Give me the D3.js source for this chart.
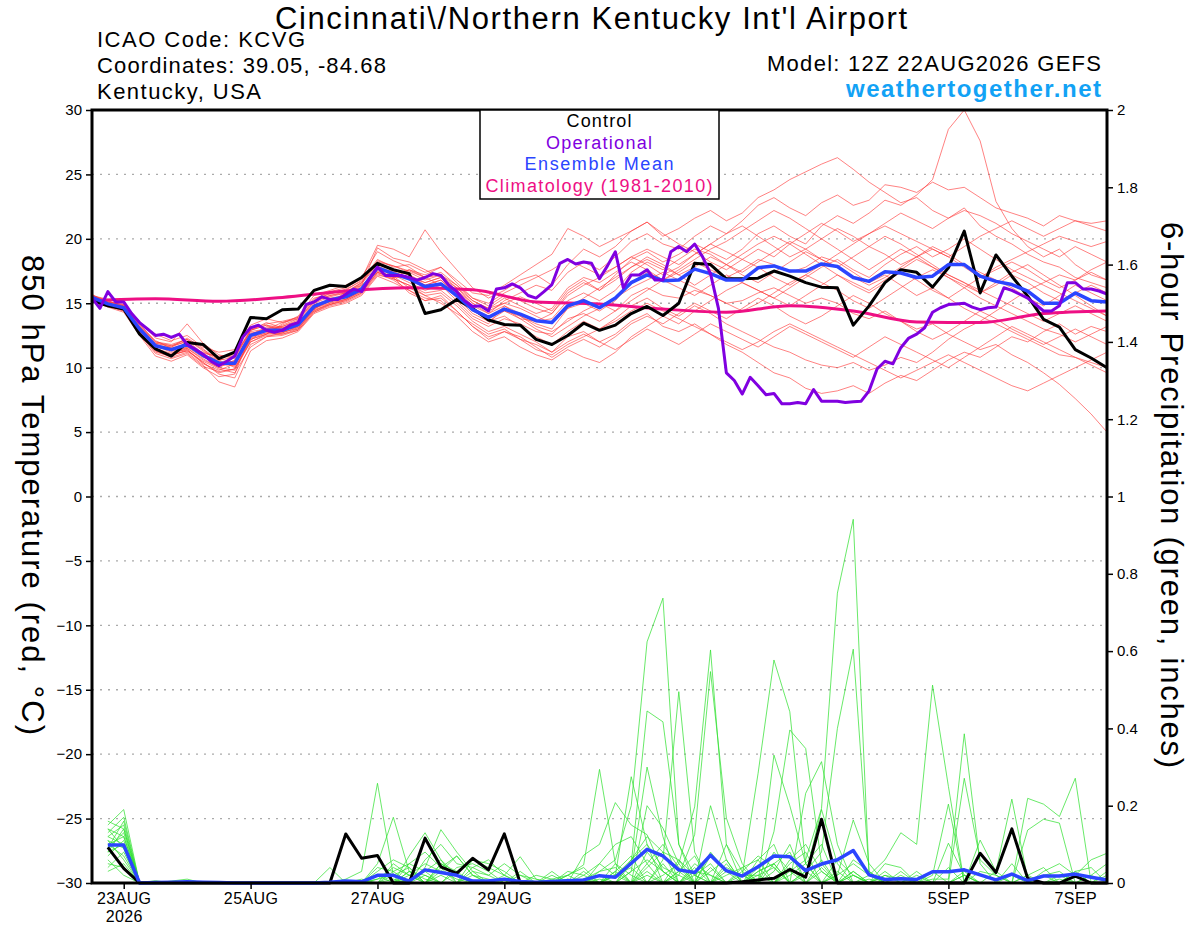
<!DOCTYPE html>
<html>
<head>
<meta charset="utf-8">
<script src="https://cdn.jsdelivr.net/npm/d3@7"></script>
<style>
  body { margin: 0; background: #fff; }
  svg { font-family: "Liberation Sans", Arial, Helvetica, sans-serif; }
</style>
</head>
<body>
<svg id="chart" width="1200" height="927"></svg>
<script>
// Model run start and forecast step
const runStart = Date.UTC(2026, 7, 22, 12);
const stepHours = 6;

// x-axis ticks (00Z of the labelled days)
const tickDays = ["2026-08-23", "2026-08-25", "2026-08-27", "2026-08-29", "2026-09-01", "2026-09-03", "2026-09-05", "2026-09-07"];
const tickLabels = ["23AUG", "25AUG", "27AUG", "29AUG", "1SEP", "3SEP", "5SEP", "7SEP"];
const tempTicks = [-30, -25, -20, -15, -10, -5, 0, 5, 10, 15, 20, 25, 30];
const precipTicks = [0, 0.2, 0.4, 0.6, 0.8, 1, 1.2, 1.4, 1.6, 1.8, 2];

// 850 hPa temperature, 6-hourly from 12Z 22AUG
const controlTemp = [15.2, 14.8, 14.55, 12.6, 11.45, 10.9, 11.95, 11.8, 10.7, 11.2,
    13.9, 13.8, 14.5, 14.55, 16.0, 16.4, 16.3, 17.0, 18.1, 17.6,
    17.3, 14.2, 14.5, 15.3, 14.6, 13.7, 13.35, 13.3, 12.2, 11.8,
    12.5, 13.45, 12.9, 13.3, 14.2, 14.75, 14.05, 15.0, 18.1, 18.0,
    16.9, 16.9, 16.95, 17.5, 17.1, 16.6, 16.25, 16.2, 13.3, 14.8,
    16.6, 17.6, 17.4, 16.25, 17.75, 20.6, 15.8, 18.75, 17.1, 15.55,
    13.75, 13.15, 11.4, 10.75, 10.0];

const meanTemp = [15.45, 14.95, 14.65, 13.0, 11.7, 11.4, 11.8, 10.95, 10.35, 10.35,
    12.5, 12.9, 12.9, 13.35, 14.75, 15.25, 15.5, 16.1, 17.75, 17.3,
    16.9, 16.3, 16.5, 15.6, 14.5, 13.9, 14.55, 14.15, 13.65, 13.5,
    14.8, 15.2, 14.65, 15.4, 16.6, 17.2, 16.75, 16.8, 17.65, 17.3,
    16.8, 16.8, 17.75, 17.9, 17.5, 17.5, 18.05, 17.85, 17.0, 16.7,
    17.45, 17.35, 17.0, 17.1, 18.0, 18.0, 17.1, 16.7, 16.45, 15.95,
    15.0, 15.0, 15.8, 15.2, 15.1];

// operational run is 3-hourly
const operTemp = [15.4, 14.6, 15.9, 15.1, 15.1, 14.2, 13.5, 13.0, 12.5, 12.6,
    12.35, 12.6, 11.8, 11.45, 11.05, 10.5, 10.15, 10.5, 10.9, 12.35,
    13.1, 13.3, 12.9, 12.75, 12.9, 13.3, 13.5, 14.9, 15.1, 15.5,
    15.3, 15.3, 15.7, 16.1, 15.9, 16.9, 17.8, 17.15, 17.15, 17.15,
    17.0, 16.8, 17.0, 17.3, 17.15, 16.4, 15.9, 15.2, 14.75, 14.8,
    14.4, 16.1, 16.2, 16.5, 16.2, 15.6, 15.4, 15.9, 16.45, 18.1,
    18.4, 18.05, 18.2, 18.1, 16.9, 17.9, 19.0, 16.2, 17.2, 17.2,
    17.6, 16.8, 16.8, 19.0, 19.4, 19.0, 19.6, 18.6, 17.3, 14.6,
    9.6, 9.0, 7.95, 9.25, 8.6, 7.9, 8.0, 7.2, 7.2, 7.3,
    7.2, 8.3, 7.4, 7.4, 7.4, 7.3, 7.35, 7.4, 8.2, 9.9,
    10.5, 10.3, 11.55, 12.3, 12.6, 13.1, 14.3, 14.65, 14.9, 14.95,
    15.0, 14.7, 14.5, 14.65, 14.7, 16.2, 16.0, 15.7, 15.4, 14.9,
    14.4, 14.4, 14.8, 16.6, 16.6, 16.1, 16.1, 15.95, 15.7];

// climatology, daily at 12Z
const climoTemp = [15.2, 15.35, 15.15, 15.45, 15.95, 16.2, 16.05, 15.1, 14.95,
    14.55, 14.3, 14.8, 14.4, 13.55, 13.5, 14.2, 14.4];

const memberTemp = [
    [15.6, 15.2, 14.8, 13.4, 12.0, 11.8, 12.2, 11.3, 10.6, 10.0, 12.0, 12.6, 13.3, 13.8, 15.2, 15.6, 15.8, 16.6, 18.3, 17.9,
     17.5, 17.0, 17.2, 16.4, 15.2, 14.6, 15.0, 15.5, 15.0, 14.4, 16.0, 16.8, 16.0, 17.2, 18.4, 19.0, 18.2, 18.8, 19.6, 19.0,
     18.4, 19.2, 20.4, 21.0, 20.2, 19.6, 21.0, 21.8, 21.2, 22.0, 23.0, 22.6, 23.4, 24.6, 28.5, 30.0, 27.6, 22.9, 20.8, 19.4,
     18.6, 19.2, 18.0, 17.2, 16.8],
    [15.3, 14.8, 14.4, 12.6, 11.2, 10.9, 11.4, 10.4, 9.6, 9.9, 12.1, 13.2, 13.0, 13.1, 14.4, 15.0, 15.9, 16.4, 17.4, 17.0,
     17.0, 16.6, 17.0, 16.0, 15.0, 14.2, 15.2, 15.8, 16.4, 16.0, 17.4, 18.2, 17.6, 18.6, 19.8, 20.4, 19.6, 19.2, 20.2, 21.0,
     20.4, 21.4, 22.6, 23.2, 22.4, 21.8, 22.8, 23.4, 22.6, 23.0, 24.2, 24.0, 23.6, 24.4, 23.8, 24.0, 23.2, 22.4, 22.0, 21.6,
     21.0, 21.8, 21.4, 21.0, 20.6],
    [15.5, 15.1, 14.9, 13.3, 12.1, 11.5, 11.6, 11.2, 10.8, 10.9, 13.0, 13.4, 13.6, 13.9, 15.3, 15.9, 16.2, 16.9, 19.5, 19.2,
     18.6, 20.7, 19.0, 17.6, 16.2, 15.4, 16.0, 16.8, 17.2, 16.4, 18.0, 19.2, 18.6, 19.4, 20.6, 21.3, 20.2, 20.8, 21.6, 22.2,
     21.4, 22.0, 23.2, 23.8, 24.6, 25.2, 25.8, 26.3, 25.4, 24.4, 23.6, 22.8, 23.2, 22.2, 21.6, 22.4, 21.0, 20.2, 19.6, 18.8,
     18.2, 17.8, 17.0, 16.6, 16.2],
    [15.4, 14.9, 14.6, 12.8, 11.4, 11.0, 11.3, 10.5, 9.9, 9.6, 11.6, 12.4, 12.5, 12.9, 14.3, 14.8, 15.1, 15.7, 17.2, 16.9,
     16.4, 15.8, 16.0, 15.0, 13.8, 13.2, 13.8, 13.4, 12.8, 12.6, 13.8, 14.2, 13.6, 14.4, 15.6, 16.2, 15.6, 15.4, 16.0, 15.6,
     15.0, 15.2, 15.8, 16.2, 15.6, 15.0, 15.4, 15.0, 14.2, 13.8, 14.4, 13.6, 13.0, 13.4, 12.6, 12.0, 11.4, 11.8, 11.0, 10.4,
     9.6, 8.7, 7.6, 6.4, 5.0],
    [15.7, 15.0, 14.5, 12.9, 11.6, 11.6, 12.3, 11.5, 10.2, 10.2, 12.3, 12.7, 12.6, 13.0, 14.6, 15.0, 15.3, 16.0, 17.5, 17.1,
     16.2, 15.6, 15.8, 14.8, 13.6, 12.8, 13.2, 12.6, 12.0, 11.2, 12.4, 12.8, 12.0, 12.6, 13.6, 14.2, 13.2, 12.8, 13.4, 12.6,
     11.8, 11.2, 10.4, 9.6, 9.2, 8.4, 8.0, 8.2, 8.6, 8.0, 8.8, 9.4, 9.0, 9.8, 10.6, 11.2, 10.8, 11.6, 12.4, 12.0,
     12.8, 13.4, 12.6, 13.2, 12.8],
    [15.2, 14.7, 14.3, 12.5, 10.9, 10.5, 11.0, 10.0, 9.3, 9.5, 12.6, 13.0, 13.2, 13.6, 15.0, 15.5, 15.8, 16.5, 18.0, 17.6,
     17.2, 16.4, 16.8, 15.6, 14.6, 13.6, 14.0, 13.2, 12.4, 11.8, 12.8, 13.6, 13.0, 13.8, 14.8, 15.4, 14.6, 14.0, 14.8, 14.2,
     13.4, 12.8, 12.2, 11.6, 11.2, 10.6, 10.2, 10.0, 10.4, 9.8, 10.2, 10.8, 10.4, 11.2, 12.2, 13.0, 13.6, 14.4, 15.2, 16.0,
     16.6, 17.2, 16.8, 17.6, 18.2],
    [15.6, 15.3, 15.0, 13.6, 12.3, 12.0, 13.4, 11.9, 11.0, 10.7, 12.9, 13.5, 13.1, 13.3, 14.5, 15.4, 15.6, 16.2, 17.9, 17.0,
     17.6, 17.2, 17.8, 16.8, 15.8, 15.6, 16.4, 17.2, 18.0, 18.8, 20.8, 20.2, 19.4, 20.0, 20.6, 21.3, 20.4, 19.6, 19.0, 18.2,
     17.6, 18.4, 19.2, 18.6, 19.6, 20.4, 21.2, 20.6, 19.8, 20.4, 21.2, 22.0, 21.4, 20.8, 21.6, 22.2, 21.8, 21.2, 20.4, 19.8,
     19.2, 18.6, 19.4, 18.8, 18.2],
    [15.3, 14.9, 14.7, 13.1, 11.8, 11.3, 11.5, 10.6, 10.0, 10.6, 12.7, 12.8, 12.7, 13.5, 14.9, 15.1, 15.3, 15.9, 17.6, 17.5,
     16.8, 16.2, 16.6, 15.4, 14.2, 13.6, 14.4, 14.0, 13.4, 13.0, 14.6, 15.0, 14.4, 15.2, 16.6, 17.4, 16.8, 17.4, 18.2, 17.6,
     17.0, 17.6, 18.4, 18.0, 17.4, 17.8, 18.6, 18.2, 17.4, 16.6, 17.2, 16.4, 15.6, 16.2, 15.4, 14.6, 14.0, 13.4, 12.8, 12.2,
     11.6, 11.0, 10.8, 10.4, 10.0],
    [15.5, 15.0, 14.6, 13.2, 11.9, 11.7, 12.0, 11.0, 10.5, 10.1, 12.2, 12.6, 13.4, 14.0, 15.6, 16.0, 16.4, 17.0, 19.0, 18.3,
     17.8, 17.0, 16.4, 15.2, 14.0, 13.4, 14.8, 14.2, 13.6, 13.8, 15.2, 15.8, 15.2, 16.0, 17.4, 18.2, 17.6, 18.4, 19.2, 18.8,
     18.0, 17.2, 16.6, 17.4, 18.2, 19.0, 18.4, 17.8, 17.0, 16.4, 17.0, 17.8, 18.6, 19.4, 18.8, 18.0, 17.4, 16.8, 16.2, 15.4,
     14.8, 15.6, 16.4, 15.8, 15.2],
    [15.4, 14.8, 14.5, 12.7, 11.3, 10.8, 11.2, 10.2, 8.9, 8.5, 11.3, 12.1, 12.3, 12.8, 14.2, 14.7, 15.0, 15.6, 17.1, 16.6,
     16.0, 15.2, 15.6, 14.4, 13.2, 12.2, 12.8, 12.4, 11.6, 10.8, 11.6, 12.2, 11.6, 12.4, 13.4, 14.0, 13.4, 14.2, 15.0, 14.4,
     13.8, 14.6, 15.4, 14.8, 14.0, 13.4, 14.0, 14.8, 15.6, 15.0, 14.2, 13.6, 12.8, 12.2, 12.8, 13.6, 14.4, 13.8, 13.0, 12.4,
     11.8, 12.4, 13.0, 12.4, 11.8],
    [15.6, 15.1, 14.9, 13.4, 12.6, 12.1, 12.5, 11.6, 11.2, 11.4, 13.3, 13.8, 13.5, 13.8, 15.1, 15.8, 16.0, 16.8, 18.4, 17.8,
     18.0, 17.4, 17.8, 16.6, 15.4, 14.8, 15.6, 15.2, 14.6, 14.2, 15.6, 16.4, 17.0, 17.8, 18.6, 18.0, 17.2, 17.8, 18.8, 19.6,
     20.4, 21.0, 20.2, 19.4, 18.6, 19.2, 20.0, 20.8, 20.2, 19.4, 18.8, 18.0, 18.6, 19.2, 18.6, 17.8, 17.0, 17.6, 18.2, 17.6,
     16.8, 16.2, 16.8, 17.4, 16.8],
    [15.3, 14.8, 14.5, 12.8, 11.5, 11.1, 11.6, 10.8, 10.4, 10.2, 12.4, 12.7, 12.9, 13.2, 14.6, 15.2, 15.6, 16.3, 17.7, 17.2,
     16.6, 16.0, 16.4, 15.6, 14.4, 13.8, 14.6, 13.8, 13.0, 12.4, 13.2, 14.0, 14.6, 15.4, 16.2, 16.8, 17.4, 16.8, 16.2, 15.6,
     15.0, 14.4, 15.0, 15.8, 16.6, 17.2, 16.6, 16.0, 15.2, 14.6, 15.4, 16.2, 17.0, 17.6, 17.0, 16.2, 15.4, 14.8, 14.2, 13.6,
     13.0, 12.6, 12.0, 12.6, 13.2],
    [15.5, 15.0, 14.7, 13.0, 11.7, 11.2, 11.4, 10.3, 9.8, 10.3, 12.9, 13.3, 12.8, 13.0, 14.4, 14.9, 15.2, 15.8, 17.3, 16.8,
     16.0, 15.4, 15.2, 14.0, 12.8, 12.0, 12.4, 11.6, 11.0, 10.6, 11.4, 10.8, 10.4, 11.2, 12.4, 13.2, 14.0, 13.4, 14.4, 15.2,
     16.0, 16.6, 16.0, 15.4, 16.2, 17.0, 17.8, 18.4, 17.6, 17.0, 18.0, 18.8, 19.4, 18.6, 19.2, 20.0, 19.2, 18.4, 17.6, 17.0,
     16.4, 15.8, 15.2, 14.6, 14.0],
    [15.4, 15.0, 14.8, 13.2, 11.9, 11.6, 12.1, 11.1, 10.9, 11.0, 12.8, 13.0, 13.5, 13.9, 15.4, 15.7, 16.1, 16.7, 18.2, 17.9,
     17.4, 16.8, 17.2, 16.2, 15.0, 14.4, 15.0, 14.6, 14.0, 13.4, 14.6, 15.4, 16.2, 17.0, 17.8, 18.6, 18.0, 17.2, 16.4, 17.2,
     18.0, 18.8, 19.6, 20.2, 19.6, 18.8, 18.0, 17.2, 16.4, 15.8, 16.6, 17.4, 16.8, 16.0, 15.4, 16.2, 17.0, 17.8, 18.4, 19.0,
     19.6, 20.2, 19.8, 19.4, 19.8],
    [15.6, 15.2, 14.7, 13.1, 11.5, 11.0, 11.5, 10.7, 10.0, 9.8, 12.0, 12.5, 12.6, 12.9, 14.3, 14.9, 15.2, 15.8, 17.4, 16.9,
     16.4, 15.6, 15.0, 14.2, 13.4, 12.6, 13.0, 12.2, 11.8, 11.2, 12.0, 12.6, 12.0, 11.4, 12.2, 13.0, 12.4, 11.8, 12.6, 13.4,
     12.8, 12.2, 11.6, 12.4, 13.2, 12.6, 12.0, 11.4, 10.8, 11.6, 12.4, 11.8, 11.2, 10.6, 10.0, 10.8, 11.6, 12.4, 13.2, 12.6,
     12.0, 11.4, 10.8, 10.2, 9.6],
    [15.3, 14.9, 14.6, 12.9, 11.6, 11.4, 11.8, 10.9, 10.3, 10.5, 12.6, 13.1, 13.0, 13.4, 14.9, 15.3, 15.5, 16.2, 17.9, 17.4,
     17.0, 16.4, 16.8, 15.8, 14.6, 14.0, 14.4, 13.8, 13.6, 14.2, 15.8, 16.6, 16.0, 16.8, 17.8, 18.4, 17.8, 17.2, 17.8, 18.6,
     18.0, 17.4, 18.2, 19.0, 19.8, 19.2, 18.4, 17.8, 18.6, 19.4, 20.2, 19.6, 18.8, 18.0, 17.2, 16.6, 15.8, 16.4, 17.2, 16.6,
     15.8, 15.2, 15.8, 16.4, 15.8],
    [15.5, 15.1, 14.8, 13.3, 12.0, 11.7, 12.2, 11.4, 10.7, 10.4, 12.5, 12.9, 13.2, 13.7, 15.1, 15.6, 15.9, 16.6, 18.1, 17.6,
     17.2, 16.6, 17.0, 16.2, 15.2, 14.6, 15.4, 14.8, 14.2, 14.6, 16.2, 17.0, 16.6, 17.4, 18.2, 17.6, 16.8, 16.2, 15.6, 16.4,
     17.2, 16.6, 16.0, 15.4, 14.8, 15.6, 16.4, 17.2, 16.6, 16.0, 16.8, 17.6, 18.4, 17.8, 17.2, 16.6, 16.0, 15.4, 14.8, 14.2,
     13.6, 14.2, 14.8, 14.2, 13.6],
    [15.4, 14.9, 14.6, 12.7, 11.3, 11.0, 11.3, 10.4, 9.5, 9.2, 11.8, 12.4, 12.7, 13.1, 14.5, 14.9, 15.3, 15.9, 17.4, 17.0,
     15.8, 15.2, 15.4, 14.4, 13.2, 12.4, 12.8, 12.2, 11.4, 11.0, 11.8, 12.4, 13.0, 13.6, 14.4, 15.0, 14.4, 13.8, 13.2, 12.6,
     12.0, 11.4, 12.0, 12.8, 13.4, 12.8, 12.2, 11.6, 11.0, 10.4, 9.8, 9.2, 9.8, 10.4, 11.0, 10.4, 9.8, 9.2, 8.6, 8.2,
     8.8, 9.4, 10.0, 10.6, 11.2],
    [15.5, 15.0, 14.7, 13.0, 11.8, 11.5, 11.9, 11.0, 10.6, 10.8, 12.9, 13.3, 13.1, 13.5, 14.8, 15.2, 15.4, 16.0, 17.8, 17.2,
     17.6, 17.0, 17.4, 16.4, 15.4, 15.0, 15.8, 16.4, 17.0, 17.6, 18.4, 17.8, 17.2, 17.8, 18.6, 19.2, 18.6, 18.0, 18.8, 19.6,
     19.0, 18.4, 17.8, 17.0, 16.4, 17.2, 18.0, 18.8, 19.6, 20.4, 21.0, 20.4, 19.8, 19.2, 18.6, 19.4, 20.2, 20.8, 21.4, 20.8,
     20.2, 20.8, 21.4, 21.2, 21.4],
    [15.4, 14.8, 14.4, 12.6, 11.1, 10.7, 11.1, 10.1, 9.7, 9.9, 12.2, 12.6, 12.7, 13.2, 14.6, 15.1, 15.6, 16.4, 19.3, 18.5,
     18.2, 17.6, 17.0, 16.0, 14.8, 14.2, 14.8, 14.0, 13.2, 12.8, 13.6, 14.4, 15.0, 14.4, 15.2, 16.0, 16.8, 17.6, 18.4, 19.2,
     19.8, 20.6, 21.4, 22.2, 21.6, 20.8, 20.0, 19.2, 18.4, 17.6, 18.4, 19.2, 18.6, 17.8, 17.0, 16.4, 15.8, 16.6, 17.4, 18.0,
     17.2, 16.4, 15.6, 14.8, 14.0]
];

// 6-hour precipitation (inches), valid 18Z 22AUG onward
const controlPrecip = [0.092, 0.038, 0, 0, 0, 0, 0, 0, 0, 0, 0, 0, 0, 0, 0, 0.127,
    0.064, 0.071, 0, 0, 0.116, 0.042, 0.025, 0.064, 0.034, 0.127, 0, 0, 0, 0, 0, 0,
    0, 0, 0, 0, 0, 0, 0, 0, 0.003, 0.008, 0.012, 0.035, 0.015, 0.165, 0, 0,
    0, 0, 0, 0, 0, 0, 0, 0.077, 0.027, 0.14, 0.012, 0, 0, 0.018, 0, 0];

const meanPrecip = [0.098, 0.098, 0, 0.001, 0.002, 0.003, 0.002, 0.001, 0, 0, 0, 0, 0, 0, 0.002, 0.005,
    0.003, 0.02, 0.02, 0.005, 0.034, 0.027, 0.02, 0.005, 0.005, 0.01, 0.004, 0.002, 0.004, 0.006, 0.008, 0.019,
    0.015, 0.051, 0.087, 0.07, 0.034, 0.027, 0.072, 0.032, 0.018, 0.042, 0.07, 0.068, 0.032, 0.049, 0.06, 0.084,
    0.021, 0.009, 0.011, 0.009, 0.029, 0.029, 0.034, 0.021, 0.008, 0.023, 0.006, 0.018, 0.018, 0.023, 0.015, 0.008];

const memberPrecip = [
    [.12, .15, 0, 0, 0, 0, 0, 0, 0, 0, 0, 0, 0, 0, 0, .01, .03, .258, .02, 0, 0, .05, .02, 0, 0, 0, 0, 0, 0, 0, .01, .03,
     .06, .2, .624, .737, .1, .02, 0, 0, 0, .03, .05, 0, .02, .19, .05, 0, .02, .06, .13, .10, .512, .25, 0, 0, 0, 0, .02, .04, 0, 0, 0, 0],
    [.08, .10, 0, 0, 0, 0, 0, 0, 0, 0, 0, 0, 0, 0, 0, 0, 0, .05, .17, .03, .01, 0, 0, 0, 0, 0, 0, 0, .02, 0, 0, .05,
     .02, 0, .08, .03, 0, 0, .04, 0, 0, 0, 0, .03, .06, .193, .75, .941, .02, 0, 0, 0, 0, 0, 0, 0, 0, 0, .219, .204, .172, .271, 0, 0],
    [.15, .19, 0, 0, 0, 0, 0, 0, 0, 0, 0, 0, 0, 0, 0, 0, 0, 0, 0, .07, .13, .06, 0, .02, .01, 0, 0, 0, 0, .02, .04, 0,
     0, .05, .445, .417, .1, 0, 0, .03, .02, 0, 0, 0, .03, .08, .4, .605, .03, 0, 0, .02, 0, 0, 0, 0, 0, 0, 0, 0, 0, .03, 0, 0],
    [.05, .04, 0, 0, .005, .01, 0, 0, 0, 0, 0, 0, 0, 0, 0, 0, 0, 0, .01, 0, .04, .138, .08, .03, 0, 0, 0, 0, 0, .01, 0, 0,
     .03, .07, 0, .02, .05, .197, .603, .1, 0, .02, .04, 0, 0, 0, .03, 0, 0, 0, 0, 0, .01, .01, .386, .05, 0, 0, 0, .02, 0, 0, 0, 0],
    [.10, .12, 0, 0, 0, 0, 0, 0, 0, 0, 0, 0, 0, 0, 0, 0, 0, .02, 0, .03, 0, 0, 0, .06, .04, .02, .068, .01, 0, 0, 0, .02,
     0, 0, 0, .06, .495, .08, 0, 0, .02, .284, .577, .443, .05, 0, 0, .02, 0, 0, 0, 0, 0, 0, 0, 0, 0, 0, .137, .165, .155, 0, 0, 0],
    [.14, .09, 0, 0, 0, 0, 0, 0, 0, 0, 0, 0, 0, 0, .04, 0, 0, 0, 0, .02, .05, .03, .01, 0, 0, 0, 0, .02, .01, .02, .047, .294,
     .05, 0, .03, 0, .02, .125, .547, .168, .05, 0, 0, .04, 0, 0, 0, .03, 0, 0, 0, 0, 0, 0, .271, .06, .02, 0, 0, 0, 0, 0, 0, .02],
    [.07, .11, 0, 0, 0, 0, 0, 0, 0, 0, 0, 0, 0, 0, 0, 0, 0, .01, .04, .02, 0, .05, .03, 0, 0, 0, 0, 0, 0, 0, .072, .10,
     .208, .15, .125, .03, 0, .04, 0, 0, 0, 0, .133, .396, .348, .05, 0, 0, 0, .03, 0, 0, 0, 0, 0, 0, .03, .217, .01, 0, 0, 0, 0, 0],
    [.11, .06, 0, 0, 0, 0, 0, 0, 0, 0, 0, 0, 0, 0, 0, 0, 0, 0, .03, .05, .08, .04, 0, 0, 0, 0, 0, 0, .03, 0, 0, 0,
     .02, .275, .1, 0, 0, .03, .02, 0, 0, .04, 0, 0, .232, .314, .1, 0, 0, 0, 0, 0, 0, 0, .02, 0, 0, 0, 0, 0, 0, .02, .06, .077],
    [.16, .14, 0, .006, 0, 0, 0, 0, 0, 0, 0, 0, 0, 0, 0, 0, 0, 0, 0, 0, .02, 0, .04, .05, .03, 0, 0, 0, 0, 0, 0, .01,
     0, .03, .30, .12, 0, 0, 0, .05, 0, 0, .331, .2, .05, 0, 0, 0, 0, 0, 0, 0, .02, .204, 0, 0, 0, 0, 0, 0, .01, 0, 0, 0],
    [.04, .08, 0, 0, 0, 0, 0, 0, 0, 0, 0, 0, 0, 0, 0, 0, 0, 0, 0, 0, 0, .03, .07, .02, 0, 0, 0, 0, 0, 0, 0, 0,
     0, 0, .20, .142, .05, 0, 0, .02, .04, 0, 0, 0, 0, 0, .02, .163, .05, 0, 0, 0, 0, 0, 0, .111, .03, 0, 0, 0, 0, 0, 0, 0],
    [.09, .13, 0, 0, 0, 0, 0, 0, 0, 0, 0, 0, 0, 0, 0, 0, 0, 0, 0, .01, .03, .06, .02, 0, 0, 0, 0, 0, 0, 0, 0, .03,
     .04, 0, 0, 0, .03, 0, .2, .06, 0, 0, .05, .08, 0, 0, 0, .06, .03, 0, 0, 0, 0, .103, .02, 0, 0, 0, 0, 0, 0, .03, .04, 0],
    [.13, .17, 0, 0, 0, 0, 0, 0, 0, 0, 0, 0, 0, 0, 0, 0, 0, .03, .06, .04, 0, 0, 0, 0, 0, .02, 0, 0, 0, 0, .02, .05,
     .1, .12, .05, 0, 0, 0, .08, .03, 0, .06, .1, 0, 0, .04, 0, 0, 0, 0, .02, 0, 0, 0, 0, 0, 0, 0, 0, .02, .03, 0, .02, .05],
    [.06, .02, 0, 0, 0, 0, 0, 0, 0, 0, 0, 0, 0, 0, 0, 0, .01, 0, 0, 0, .06, .1, .05, .04, .02, 0, .03, 0, 0, 0, 0, 0,
     0, .06, .12, .08, 0, .05, .02, 0, 0, 0, 0, .06, .1, .03, 0, 0, 0, .05, .04, 0, 0, 0, 0, 0, 0, .05, 0, 0, 0, 0, 0, 0],
    [.10, .07, 0, 0, 0, 0, 0, 0, 0, 0, 0, 0, 0, 0, 0, 0, 0, 0, .02, 0, 0, 0, .03, .06, .05, .03, 0, 0, 0, 0, 0, 0,
     0, 0, .04, .08, .06, 0, 0, 0, .03, .07, .04, 0, 0, 0, .06, .02, 0, .02, 0, 0, .03, 0, 0, 0, 0, 0, 0, .03, .05, .02, 0, 0],
    [.12, .10, 0, 0, 0, 0, 0, 0, 0, 0, 0, 0, 0, 0, 0, 0, 0, .04, .03, 0, 0, .02, 0, 0, 0, 0, 0, 0, .01, 0, .03, 0,
     .02, .06, .10, .04, .02, 0, .07, .03, .02, .02, 0, .02, .05, .1, 0, 0, .01, 0, 0, 0, 0, 0, .02, 0, 0, 0, 0, 0, .02, 0, 0, .03],
    [.03, .05, 0, 0, 0, 0, 0, 0, 0, 0, 0, 0, 0, 0, 0, 0, 0, 0, 0, .03, .02, 0, 0, .03, .02, .05, .02, 0, 0, 0, 0, 0,
     .03, 0, .05, .1, .04, 0, 0, .1, .03, 0, 0, .05, .08, 0, 0, 0, 0, 0, 0, .03, 0, .04, 0, 0, 0, .02, 0, 0, 0, 0, 0, 0],
    [.08, .14, 0, 0, 0, 0, 0, 0, 0, 0, 0, 0, 0, 0, 0, 0, 0, 0, 0, 0, 0, .04, .07, .02, 0, 0, 0, 0, 0, .02, 0, 0,
     0, .03, .06, .03, 0, .02, .05, 0, 0, 0, .08, .03, 0, 0, .02, .05, .02, 0, 0, 0, 0, 0, .03, 0, 0, 0, 0, 0, 0, 0, .02, 0],
    [.14, .12, 0, 0, 0, 0, 0, 0, 0, 0, 0, 0, 0, 0, 0, 0, 0, .01, .02, .04, 0, 0, 0, 0, 0, 0, .02, .01, 0, 0, .01, 0,
     .05, .02, 0, 0, .03, .07, 0, 0, .04, .06, 0, 0, .03, 0, 0, .03, 0, .02, .01, 0, 0, 0, 0, 0, 0, 0, 0, 0, 0, 0, 0, 0],
    [.11, .09, 0, 0, 0, 0, 0, 0, 0, 0, 0, 0, 0, 0, 0, 0, 0, 0, 0, .05, .03, 0, 0, 0, 0, 0, 0, 0, 0, .03, .02, 0,
     0, 0, .02, 0, .06, .02, 0, .04, .02, 0, .03, .1, 0, .03, 0, 0, 0, 0, 0, 0, 0, 0, 0, .03, .02, 0, 0, 0, 0, 0, 0, 0],
    [.09, .16, 0, 0, 0, 0, 0, 0, 0, 0, 0, 0, 0, 0, 0, 0, 0, 0, .05, .02, 0, 0, 0, .04, .06, .02, 0, 0, 0, .01, 0, 0,
     .02, .04, 0, .05, 0, 0, .03, .06, 0, .03, .05, 0, 0, .06, 0, .02, 0, 0, .03, 0, 0, 0, 0, 0, 0, 0, .02, 0, 0, 0, 0, 0]
];

// legend entries with the widths they take in the reference
const legendItems = [
    { label: "Control", color: "#000000", width: 65 },
    { label: "Operational", color: "#8000e0", width: 106 },
    { label: "Ensemble Mean", color: "#2b45ff", width: 149 },
    { label: "Climatology (1981-2010)", color: "#ee0f84", width: 227 }
];

// Plot area
const plot = { left: 92, right: 1107, top: 110, bottom: 883 };
const hourMs = 3600 * 1000;

const svg = d3.select("#chart");

const x = d3.scaleUtc()
    .domain([new Date(runStart), new Date(runStart + 384 * hourMs)])
    .range([plot.left, plot.right]);

const yTemp = d3.scaleLinear().domain([-30, 30]).range([plot.bottom, plot.top]);
const yPrecip = d3.scaleLinear().domain([0, 2]).range([plot.bottom, plot.top]);

// line generators: index -> forecast hour
function seriesLine(yScale, hoursPerStep, firstHour) {
    return d3.line()
        .x((d, i) => x(new Date(runStart + (firstHour + i * hoursPerStep) * hourMs)))
        .y(d => yScale(d));
}

const tempLine = seriesLine(yTemp, stepHours, 0);
const operLine = seriesLine(yTemp, 3, 0);
const climoLine = seriesLine(yTemp, 24, 0).curve(d3.curveMonotoneX);
const precipLine = seriesLine(yPrecip, stepHours, stepHours);

// dotted grid at temperature ticks
svg.append("g")
    .selectAll("line")
    .data(tempTicks.filter(t => t > -30 && t < 30))
    .join("line")
    .attr("x1", plot.left)
    .attr("x2", plot.right)
    .attr("y1", d => yTemp(d))
    .attr("y2", d => yTemp(d))
    .attr("stroke", "#aaaaaa")
    .attr("stroke-width", 1.3)
    .attr("stroke-dasharray", "2,6");

const plotArea = svg.append("g");

// ensemble members
plotArea.append("g")
    .selectAll("path")
    .data(memberTemp)
    .join("path")
    .attr("d", d => tempLine(d))
    .attr("fill", "none")
    .attr("stroke", "#ff3a3a")
    .attr("stroke-opacity", 0.8)
    .attr("stroke-width", 0.8);

plotArea.append("g")
    .selectAll("path")
    .data(memberPrecip)
    .join("path")
    .attr("d", d => precipLine(d))
    .attr("fill", "none")
    .attr("stroke", "#2ee02e")
    .attr("stroke-opacity", 0.9)
    .attr("stroke-width", 0.8);

// climatology
plotArea.append("path")
    .attr("d", climoLine(climoTemp))
    .attr("fill", "none")
    .attr("stroke", "#ee0f84")
    .attr("stroke-width", 3);

// control
plotArea.append("path")
    .attr("d", tempLine(controlTemp))
    .attr("fill", "none")
    .attr("stroke", "#000")
    .attr("stroke-width", 3)
    .attr("stroke-linejoin", "round");

plotArea.append("path")
    .attr("d", precipLine(controlPrecip))
    .attr("fill", "none")
    .attr("stroke", "#000")
    .attr("stroke-width", 3)
    .attr("stroke-linejoin", "round");

// ensemble mean
plotArea.append("path")
    .attr("d", tempLine(meanTemp))
    .attr("fill", "none")
    .attr("stroke", "#2b45ff")
    .attr("stroke-width", 3.5)
    .attr("stroke-linejoin", "round");

plotArea.append("path")
    .attr("d", precipLine(meanPrecip))
    .attr("fill", "none")
    .attr("stroke", "#2b45ff")
    .attr("stroke-width", 3.5)
    .attr("stroke-linejoin", "round");

// operational
plotArea.append("path")
    .attr("d", operLine(operTemp))
    .attr("fill", "none")
    .attr("stroke", "#8000e0")
    .attr("stroke-width", 3)
    .attr("stroke-linejoin", "round");

// axes
const leftAxis = d3.axisLeft(yTemp).tickValues(tempTicks).tickSize(6).tickPadding(4);
const rightAxis = d3.axisRight(yPrecip).tickValues(precipTicks).tickSize(6).tickPadding(4)
    .tickFormat(d3.format("~g"));
const tickDates = tickDays.map(s => new Date(s + "T00:00:00Z"));
const bottomAxis = d3.axisBottom(x).tickValues(tickDates).tickSize(6).tickPadding(4)
    .tickFormat((d, i) => tickLabels[i]);

function styleAxis(g, size) {
    g.select(".domain").remove();
    g.selectAll(".tick line").attr("stroke", "#000").attr("stroke-width", 1.5);
    g.selectAll(".tick text").attr("fill", "#000").attr("font-size", size)
        .attr("font-family", "Liberation Sans, Arial, sans-serif");
}

svg.append("g")
    .attr("transform", `translate(${plot.left},0)`)
    .call(leftAxis)
    .call(styleAxis, 15);

svg.append("g")
    .attr("transform", `translate(${plot.right},0)`)
    .call(rightAxis)
    .call(styleAxis, 15);

const xAxisG = svg.append("g")
    .attr("transform", `translate(0,${plot.bottom})`)
    .call(bottomAxis)
    .call(styleAxis, 16);

xAxisG.selectAll(".tick text").attr("letter-spacing", 0.4);

// year under the first date
xAxisG.select(".tick text")
    .append("tspan")
    .attr("x", 0)
    .attr("dy", "1.1em")
    .text("2026");

// frame
svg.append("rect")
    .attr("x", plot.left)
    .attr("y", plot.top)
    .attr("width", plot.right - plot.left)
    .attr("height", plot.bottom - plot.top)
    .attr("fill", "none")
    .attr("stroke", "#000")
    .attr("stroke-width", 3);

// legend
const legend = svg.append("g");
legend.append("rect")
    .attr("x", 480)
    .attr("y", 110)
    .attr("width", 239)
    .attr("height", 89)
    .attr("fill", "#fff")
    .attr("stroke", "#000")
    .attr("stroke-width", 1.5);

legend.selectAll("text")
    .data(legendItems)
    .join("text")
    .attr("x", 599)
    .attr("y", (d, i) => 127 + i * 21.7)
    .attr("text-anchor", "middle")
    .attr("font-size", 18)
    .attr("textLength", d => d.width)
    .attr("lengthAdjust", "spacing")
    .attr("fill", d => d.color)
    .text(d => d.label);

// header texts, stretched to the widths they take in the reference
function headerText(label, px, py, size, width, anchor) {
    return svg.append("text")
        .attr("x", px)
        .attr("y", py)
        .attr("text-anchor", anchor)
        .attr("font-size", size)
        .attr("textLength", width)
        .attr("lengthAdjust", "spacing")
        .text(label);
}

headerText("Cincinnati\\/Northern Kentucky Int'l Airport", 591, 29, 31, 632, "middle");
headerText("ICAO Code: KCVG", 97, 47, 22, 208, "start");
headerText("Coordinates: 39.05, -84.68", 97, 73, 22, 289, "start");
headerText("Kentucky, USA", 97, 99, 22, 164, "start");
headerText("Model: 12Z 22AUG2026 GEFS", 1101, 71, 22, 334, "end");
headerText("weathertogether.net", 1101, 97, 24, 255, "end")
    .attr("font-weight", "bold")
    .attr("fill", "#12a2f5");

headerText("850 hPa Temperature (red, \u00B0C)", 0, 0, 31, 480, "middle")
    .attr("transform", "translate(22,495) rotate(90)");

headerText("6-hour Precipitation (green, inches)", 0, 0, 31, 546, "middle")
    .attr("transform", "translate(1161,495) rotate(90)");
</script>
</body>
</html>
